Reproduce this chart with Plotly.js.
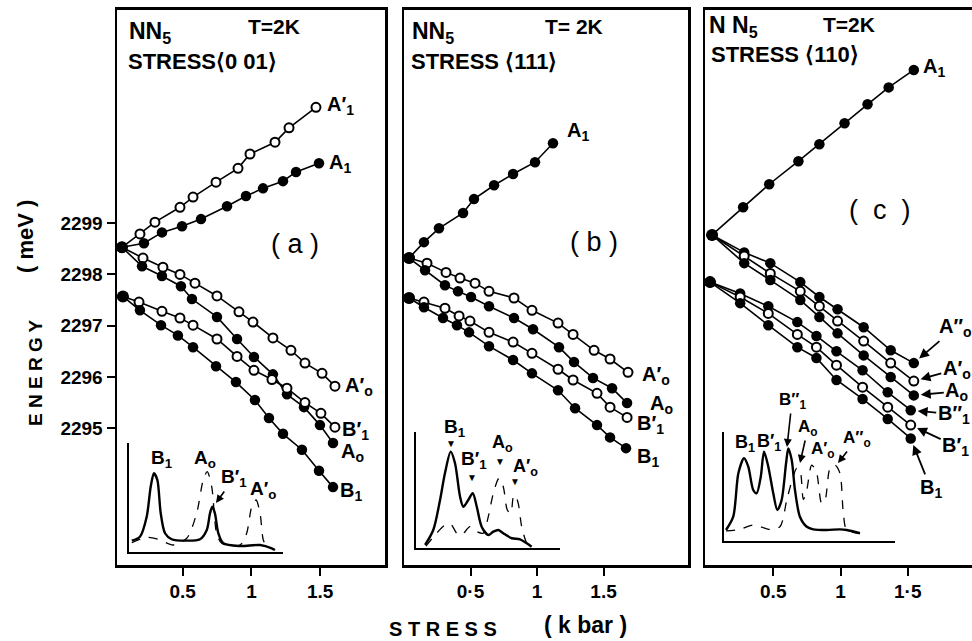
<!DOCTYPE html>
<html>
<head>
<meta charset="utf-8">
<script src="https://cdn.plot.ly/plotly-3.0.1.min.js"></script>
<style>html,body{margin:0;padding:0;background:#fff;}#chart{width:972px;height:641px;}</style>
</head>
<body>
<div id="chart"></div>
<script>
// ---------- Panel (a): stress <001> ----------
const aStressA1p = [0.058,0.189,0.298,0.480,0.575,0.742,0.902,0.989,1.171,1.273,1.469];
const aEnergyA1p = [2298.53,2298.79,2299.02,2299.31,2299.51,2299.80,2300.07,2300.35,2300.58,2300.86,2301.26];
const aStressA1  = [0.058,0.218,0.349,0.495,0.633,0.822,0.960,1.084,1.229,1.324,1.491];
const aEnergyA1  = [2298.53,2298.61,2298.82,2298.94,2299.08,2299.33,2299.53,2299.68,2299.82,2300.00,2300.17];
const aStressA0p = [0.058,0.211,0.356,0.480,0.589,0.749,0.909,1.011,1.156,1.287,1.389,1.513,1.607];
const aEnergyA0p = [2298.53,2298.32,2298.14,2298.00,2297.83,2297.58,2297.27,2297.07,2296.76,2296.52,2296.27,2296.07,2295.82];
const aStressA0  = [0.058,0.204,0.349,0.487,0.567,0.749,0.895,1.018,1.156,1.258,1.382,1.498,1.593];
const aEnergyA0  = [2298.53,2298.16,2297.97,2297.77,2297.52,2297.17,2296.74,2296.39,2296.05,2295.66,2295.41,2295.06,2294.71];
const aStressB1p = [0.065,0.182,0.349,0.480,0.575,0.749,0.895,1.018,1.149,1.258,1.389,1.505,1.607];
const aEnergyB1p = [2297.57,2297.46,2297.28,2297.15,2297.01,2296.74,2296.40,2296.13,2295.95,2295.78,2295.50,2295.29,2295.02];
const aStressB1  = [0.065,0.189,0.342,0.465,0.575,0.742,0.887,1.025,1.127,1.229,1.367,1.491,1.593];
const aEnergyB1  = [2297.57,2297.30,2297.01,2296.81,2296.58,2296.21,2295.90,2295.55,2295.20,2294.89,2294.58,2294.17,2293.85];

// ---------- Panel (b): stress <111> ----------
const bStressA1  = [0.038,0.150,0.263,0.444,0.526,0.677,0.820,0.985,1.120];
const bEnergyA1  = [2298.32,2298.63,2298.90,2299.20,2299.47,2299.74,2299.96,2300.19,2300.56];
const bStressA0p = [0.038,0.173,0.316,0.421,0.534,0.639,0.827,0.962,1.158,1.271,1.429,1.549,1.684];
const bEnergyA0p = [2298.32,2298.22,2298.04,2297.93,2297.83,2297.67,2297.54,2297.30,2297.05,2296.83,2296.52,2296.35,2296.09];
const bStressA0  = [0.038,0.158,0.308,0.406,0.504,0.639,0.827,0.970,1.165,1.278,1.421,1.564,1.677];
const bEnergyA0  = [2298.32,2298.08,2297.79,2297.67,2297.56,2297.38,2297.15,2296.93,2296.58,2296.29,2295.98,2295.78,2295.49];
const bStressB1p = [0.038,0.150,0.308,0.414,0.496,0.639,0.820,0.962,1.158,1.271,1.451,1.549,1.677];
const bEnergyB1p = [2297.54,2297.46,2297.34,2297.19,2297.09,2296.87,2296.68,2296.46,2296.15,2295.94,2295.68,2295.41,2295.21];
const bStressB1  = [0.038,0.150,0.293,0.398,0.489,0.639,0.820,0.962,1.158,1.286,1.451,1.549,1.669];
const bEnergyB1  = [2297.54,2297.36,2297.15,2297.01,2296.87,2296.60,2296.33,2296.07,2295.74,2295.39,2295.06,2294.82,2294.61];

// ---------- Panel (c): stress <110> ----------
const cStressA1  = [0.045,0.276,0.470,0.687,0.843,1.030,1.201,1.358,1.545];
const cEnergyA1  = [2298.77,2299.31,2299.76,2300.21,2300.54,2300.95,2301.32,2301.65,2301.99];
const cStressUp  = [0.045,0.284,0.478,0.701,0.843,0.978,1.172,1.373,1.545];
const cEnergyA0pp= [2298.77,2298.43,2298.22,2297.85,2297.56,2297.32,2296.97,2296.52,2296.27];
const cEnergyA0p = [2298.77,2298.36,2298.02,2297.67,2297.38,2297.09,2296.70,2296.27,2295.92];
const cEnergyA0  = [2298.77,2298.22,2297.89,2297.50,2297.17,2296.85,2296.42,2296.00,2295.64];
const cStressLo  = [0.030,0.254,0.463,0.679,0.821,0.970,1.164,1.351,1.522];
const cEnergyB1pp= [2297.85,2297.63,2297.38,2297.07,2296.80,2296.50,2296.13,2295.70,2295.35];
const cEnergyB1p = [2297.85,2297.56,2297.24,2296.83,2296.58,2296.23,2295.80,2295.41,2295.06];
const cEnergyB1  = [2297.85,2297.44,2297.01,2296.58,2296.37,2295.94,2295.57,2295.18,2294.80];

// ---------- Inset spectra (arbitrary units 0-100) ----------
const insASolidX = [1.8,7.1,11.5,14.1,16.2,18.4,20.6,23.4,27.7,37.5,46.1,50.5,52.6,54.1,55.8,58.0,61.2,72.1,85.1,92.7,94.8];
const insASolidY = [10.4,14.0,32.4,59.9,72.2,66.1,35.5,17.2,11.7,10.4,11.7,20.2,35.5,41.6,35.5,17.2,8.0,5.5,6.4,3.4,1.8];
const insADashX  = [1.8,11.5,19.0,28.7,37.5,43.9,48.2,50.8,53.7,56.9,60.2,72.1,76.4,79.7,82.5,85.1,87.2,89.4];
const insADashY  = [8.5,13.5,11.7,6.4,12.6,35.5,66.1,73.7,59.9,17.2,8.0,6.4,17.2,41.6,47.7,35.5,11.0,4.9];
const insBSolidX = [6.3,12.0,16.7,20.1,24.1,27.1,30.6,32.8,36.3,39.4,42.2,45.6,50.2,53.7,57.2,60.6,66.5,72.2,76.9,80.3];
const insBSolidY = [2.6,15.5,41.4,64.4,83.1,73.0,44.2,35.6,41.4,47.2,35.6,18.4,11.2,14.1,15.5,12.7,8.4,7.5,4.1,1.1];
const insBDashX  = [6.9,13.2,20.1,24.1,28.3,31.7,37.5,42.2,46.7,50.2,53.7,57.6,60.6,63.4,65.8,67.6,68.8,71.0,73.4,76.9,79.2];
const insBDashY  = [1.7,11.2,19.8,20.7,12.7,11.2,18.4,14.1,12.7,27.0,47.2,60.1,52.8,32.8,29.9,44.2,45.7,38.5,18.4,4.1,1.1];
const insCSolidX = [1.2,5.4,8.4,11.7,14.2,17.1,19.1,21.5,23.4,25.9,28.8,31.2,33.7,36.3,37.6,39.6,41.5,44.4,48.4,52.2,60.1,67.8,71.8,79.5];
const insCSolidY = [10.1,22.3,62.1,75.9,68.2,46.8,43.8,59.0,81.9,68.2,43.8,28.4,37.6,71.3,85.0,74.3,46.8,22.3,13.1,10.7,10.1,10.7,10.1,7.1];
const insCDashX  = [1.2,9.4,17.1,26.9,32.7,36.7,39.6,42.5,44.4,46.4,48.4,51.3,54.2,57.1,59.1,62.0,64.9,67.8,69.8,71.8,79.5];
const insCDashY  = [9.2,10.7,14.7,10.7,13.1,37.6,54.4,66.7,65.1,38.2,46.8,69.7,62.1,34.6,37.6,66.7,69.7,62.1,25.4,10.1,7.1];

// ---------- Tick labels ----------
const yTickVals = [2295,2296,2297,2298,2299];
const yTickText = ['2295','2296','2297','2298','2299'];
const xTickVals = [0.5,1,1.5];
const xTickTextA = ['0.5','1','1.5'];
const xTickTextB = ['0·5','1','1.5'];
const xTickTextC = ['0.5','1','1·5'];

// ---------- helpers ----------
const FONT = 'Liberation Sans, Arial, sans-serif';
const traces = [];
function series(xs, ys, filled, xa, ya) {
  traces.push({
    x: xs, y: ys, xaxis: xa, yaxis: ya, mode: 'lines+markers', type: 'scatter',
    line: {color: 'black', width: 1.6},
    marker: filled ? {size: 10.5, color: 'black', line: {color: 'black', width: 0}}
                   : {size: 9, color: 'white', line: {color: 'black', width: 2}},
    hoverinfo: 'skip'
  });
}
function origins(list, xa, ya) {
  traces.push({
    x: list.map(s => s[0][0]), y: list.map(s => s[1][0]), xaxis: xa, yaxis: ya,
    mode: 'markers', type: 'scatter', marker: {size: 12, color: 'black'}, hoverinfo: 'skip'
  });
}
function spectrum(xs, ys, dashed, xa, ya) {
  traces.push({
    x: xs, y: ys, xaxis: xa, yaxis: ya, mode: 'lines', type: 'scatter',
    line: {color: 'black', width: dashed ? 1.3 : 2.4, dash: dashed ? 'dash' : 'solid', shape: 'spline', smoothing: 0.8},
    hoverinfo: 'skip'
  });
}

// panel a
series(aStressA1p, aEnergyA1p, false, 'x', 'y');
series(aStressA1, aEnergyA1, true, 'x', 'y');
series(aStressA0p, aEnergyA0p, false, 'x', 'y');
series(aStressA0, aEnergyA0, true, 'x', 'y');
series(aStressB1p, aEnergyB1p, false, 'x', 'y');
series(aStressB1, aEnergyB1, true, 'x', 'y');
origins([[aStressA1, aEnergyA1], [aStressB1, aEnergyB1]], 'x', 'y');
// panel b
series(bStressA1, bEnergyA1, true, 'x2', 'y2');
series(bStressA0p, bEnergyA0p, false, 'x2', 'y2');
series(bStressA0, bEnergyA0, true, 'x2', 'y2');
series(bStressB1p, bEnergyB1p, false, 'x2', 'y2');
series(bStressB1, bEnergyB1, true, 'x2', 'y2');
origins([[bStressA1, bEnergyA1], [bStressB1, bEnergyB1]], 'x2', 'y2');
// panel c
series(cStressA1, cEnergyA1, true, 'x3', 'y3');
series(cStressUp, cEnergyA0pp, true, 'x3', 'y3');
series(cStressUp, cEnergyA0p, false, 'x3', 'y3');
series(cStressUp, cEnergyA0, true, 'x3', 'y3');
series(cStressLo, cEnergyB1pp, true, 'x3', 'y3');
series(cStressLo, cEnergyB1p, false, 'x3', 'y3');
series(cStressLo, cEnergyB1, true, 'x3', 'y3');
origins([[cStressUp, cEnergyA0], [cStressLo, cEnergyB1]], 'x3', 'y3');
// insets
spectrum(insASolidX, insASolidY, false, 'x4', 'y4');
spectrum(insADashX, insADashY, true, 'x4', 'y4');
spectrum(insBSolidX, insBSolidY, false, 'x5', 'y5');
spectrum(insBDashX, insBDashY, true, 'x5', 'y5');
spectrum(insCSolidX, insCSolidY, false, 'x6', 'y6');
spectrum(insCDashX, insCDashY, true, 'x6', 'y6');

// ---------- annotations ----------
const W = 972, H = 641;
const ann = [];
function lab(text, xs, ys, xa, ya, dx, dy, size) {
  ann.push({text: text, x: xs[xs.length-1], y: ys[ys.length-1], xref: xa, yref: ya,
    xanchor: 'left', yanchor: 'middle', xshift: dx, yshift: dy, showarrow: false,
    font: {family: FONT, size: size || 20, color: 'black', weight: 'bold'}});
}
function arrowLab(text, xs, ys, xa, ya, ax, ay) {
  ann.push({text: text, x: xs[xs.length-1], y: ys[ys.length-1], xref: xa, yref: ya,
    ax: ax, ay: ay, showarrow: true, arrowhead: 2, arrowsize: 1.1, arrowwidth: 1.8, standoff: 7,
    arrowcolor: 'black', font: {family: FONT, size: 20, color: 'black', weight: 'bold'}});
}
function txt(text, px, py, size, anchor, bold, angle) {
  ann.push({text: text, x: px / W, y: 1 - py / H, xref: 'paper', yref: 'paper',
    xanchor: anchor || 'center', yanchor: 'middle', showarrow: false, textangle: angle || 0,
    font: {family: FONT, size: size, color: 'black', weight: bold === false ? 'normal' : 'bold'}});
}
function pArrow(text, hx, hy, tx, ty, size) {
  ann.push({text: text, x: hx / W, y: 1 - hy / H, xref: 'paper', yref: 'paper',
    ax: tx - hx, ay: ty - hy, showarrow: true, arrowhead: 2, arrowsize: 1, arrowwidth: 1.6,
    arrowcolor: 'black', standoff: 0,
    font: {family: FONT, size: size || 17, color: 'black', weight: 'bold'}});
}

// panel a labels
lab('A′<sub>1</sub>', aStressA1p, aEnergyA1p, 'x', 'y', 9, 2);
lab('A<sub>1</sub>', aStressA1, aEnergyA1, 'x', 'y', 8, 0);
lab('A′<sub>o</sub>', aStressA0p, aEnergyA0p, 'x', 'y', 8, 0);
lab('B′<sub>1</sub>', aStressB1p, aEnergyB1p, 'x', 'y', 5, -3);
lab('A<sub>o</sub>', aStressA0, aEnergyA0, 'x', 'y', 6, -9);
lab('B<sub>1</sub>', aStressB1, aEnergyB1, 'x', 'y', 5, -4);
// panel b labels
lab('A<sub>1</sub>', bStressA1, bEnergyA1, 'x2', 'y2', 12, 12);
lab('A′<sub>o</sub>', bStressA0p, bEnergyA0p, 'x2', 'y2', 12, -3);
lab('A<sub>o</sub>', bStressA0, bEnergyA0, 'x2', 'y2', 21, -1);
lab('B′<sub>1</sub>', bStressB1p, bEnergyB1p, 'x2', 'y2', 8, -7);
lab('B<sub>1</sub>', bStressB1, bEnergyB1, 'x2', 'y2', 9, -9);
// panel c labels
lab('A<sub>1</sub>', cStressA1, cEnergyA1, 'x3', 'y3', 7, 2);
arrowLab('A″<sub>o</sub>', cStressUp, cEnergyA0pp, 'x3', 'y3', 42, -36);
arrowLab('A′<sub>o</sub>', cStressUp, cEnergyA0p, 'x3', 'y3', 43, -12);
arrowLab('A<sub>o</sub>', cStressUp, cEnergyA0, 'x3', 'y3', 43, -4);
arrowLab('B″<sub>1</sub>', cStressLo, cEnergyB1pp, 'x3', 'y3', 43, 4);
arrowLab('B′<sub>1</sub>', cStressLo, cEnergyB1p, 'x3', 'y3', 45, 21);
arrowLab('B<sub>1</sub>', cStressLo, cEnergyB1, 'x3', 'y3', 20, 50);

// headers
txt('NN<sub>5</sub>', 127, 32, 23, 'left');
txt('T=2K', 246, 27, 21, 'left');
txt('STRESS⟨0 01⟩', 126, 62, 22, 'left');
txt('( a )', 295, 244, 27, 'center', false);
txt('NN<sub>5</sub>', 410, 32, 23, 'left');
txt('T= 2K', 543, 27, 21, 'left');
txt('STRESS ⟨111⟩', 409, 62, 22, 'left');
txt('( b )', 594, 242, 27, 'center', false);
txt('N N<sub>5</sub>', 707, 27, 23, 'left');
txt('T=2K', 821, 24, 21, 'left');
txt('STRESS ⟨110⟩', 709, 54, 22, 'left');
txt('(  c  )', 880, 210, 27, 'center', false);

// axis titles
txt('E N E R G Y', 35, 373, 19, 'center', true, -90);
txt('( meV )', 25, 237, 22, 'center', true, -90);
txt('S T R E S S', 443, 629, 20, 'center');
txt('( k bar )', 585, 625, 23, 'center');

// inset (a) labels
txt('B<sub>1</sub>', 162, 459, 19);
txt('A<sub>o</sub>', 205, 459, 19);
pArrow('B′<sub>1</sub>', 216, 503, 234, 478, 19);
txt('A′<sub>o</sub>', 263, 490, 19);
// inset (b) labels
txt('B<sub>1</sub>', 455, 428, 19);
txt('▼', 451, 443, 10);
txt('B′<sub>1</sub>', 474, 460, 19);
txt('▼', 472, 477, 10);
txt('A<sub>o</sub>', 502, 443, 18);
txt('▼', 500, 461, 10);
txt('A′<sub>o</sub>', 525, 467, 18);
txt('▼', 515, 481, 10);
// inset (c) labels
txt('B<sub>1</sub>', 745, 443, 18);
txt('B′<sub>1</sub>', 769, 442, 18);
pArrow('B″<sub>1</sub>', 787, 447, 792, 401, 17);
pArrow('A<sub>o</sub>', 800, 463, 808, 428, 17);
txt('A′<sub>o</sub>', 823, 450, 17);
pArrow('A″<sub>o</sub>', 838, 463, 857, 439, 17);

// ---------- axes ----------
const tickFont = {family: FONT, size: 19, color: 'black', weight: 'bold'};
const yDom = [0.11856, 0.9844];
const yRange = [2292.33, 2303.16];
function xAx(dom, rng, ticktext) {
  return {domain: dom, range: rng, tickvals: xTickVals, ticktext: ticktext, ticks: 'outside',
    ticklen: 8, tickwidth: 2, tickcolor: 'black', showline: true, mirror: true, linewidth: 2.5,
    linecolor: 'black', showgrid: false, zeroline: false, tickfont: tickFont, fixedrange: true};
}
function yAx(anchor, labels, mirror) {
  return {domain: yDom, range: yRange, anchor: anchor, showline: true, mirror: mirror, linewidth: 2.5,
    linecolor: 'black', showgrid: false, zeroline: false,
    tickvals: labels ? yTickVals : [], ticktext: labels ? yTickText : [],
    ticks: labels ? 'outside' : '', ticklen: 8, tickwidth: 2, tickcolor: 'black',
    showticklabels: labels, tickfont: tickFont, fixedrange: true};
}
function insX(dom, anchor) {
  return {domain: dom, range: [0, 100], anchor: anchor, showline: true, linewidth: 2, linecolor: 'black',
    showgrid: false, zeroline: false, showticklabels: false, ticks: '', fixedrange: true};
}
function insY(dom, anchor) {
  return {domain: dom, range: [0, 100], anchor: anchor, showline: true, linewidth: 2, linecolor: 'black',
    showgrid: false, zeroline: false, showticklabels: false, ticks: '', fixedrange: true};
}

const layout = {
  width: W, height: H, margin: {l: 0, r: 0, t: 0, b: 0},
  paper_bgcolor: 'white', plot_bgcolor: 'rgba(0,0,0,0)', showlegend: false,
  xaxis: Object.assign(xAx([117/W, 385/W], [0.022, 1.971], xTickTextA), {anchor: 'y'}),
  yaxis: yAx('x', true, true),
  xaxis2: Object.assign(xAx([404/W, 688/W], [0, 2.135], xTickTextB), {anchor: 'y2'}),
  yaxis2: yAx('x2', false, true),
  xaxis3: Object.assign(xAx([705/W, 1], [-0.0075, 1.9776], xTickTextC), {anchor: 'y3'}),
  yaxis3: yAx('x3', false, false),
  xaxis4: insX([129/W, 283/W], 'y4'),
  yaxis4: insY([(H-552)/H, (H-443)/H], 'x4'),
  xaxis5: insX([416/W, 560/W], 'y5'),
  yaxis5: insY([(H-548)/H, (H-432)/H], 'x5'),
  xaxis6: insX([724/W, 895/W], 'y6'),
  yaxis6: insY([(H-541)/H, (H-432)/H], 'x6'),
  annotations: ann
};

Plotly.newPlot('chart', traces, layout, {staticPlot: true, displayModeBar: false});
</script>
</body>
</html>
